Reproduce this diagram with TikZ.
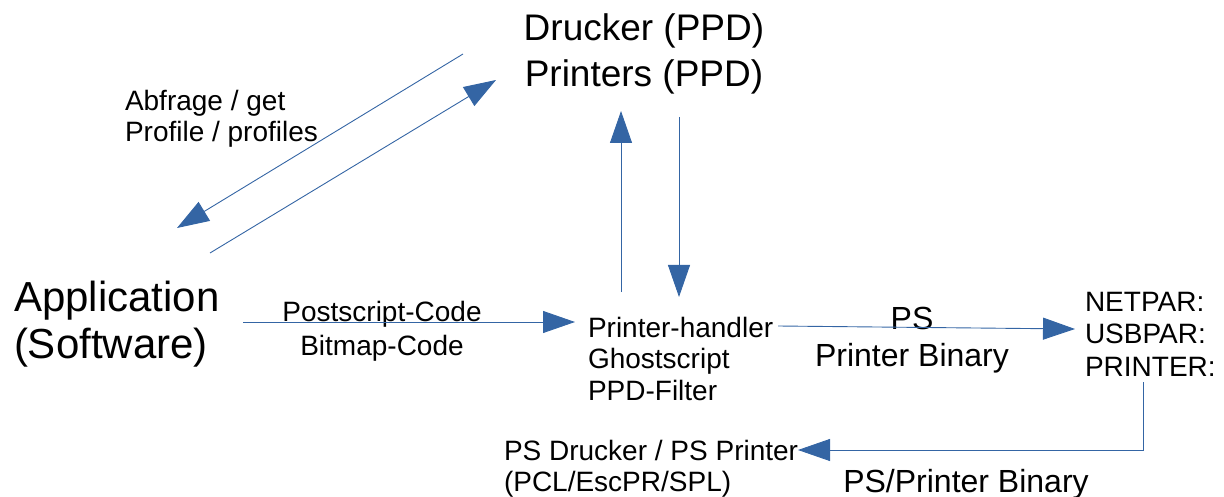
\documentclass[tikz,border=0pt]{standalone}
\usepackage{fontspec}
\setmainfont{Liberation Sans}
\usetikzlibrary{arrows.meta}
\definecolor{ablue}{RGB}{52,101,164}
\newcommand\myfs[2]{\fontsize{#1}{#2}\selectfont}
\begin{document}
\begin{tikzpicture}[x=1pt,y=-1pt,
  lbl/.style={inner sep=0pt, outer sep=0pt},
  conn/.style={draw=ablue, line width=0.9pt, -{Triangle[length=32pt,width=22pt]}}]
\useasboundingbox (0,0) rectangle (1224,497);
% texts (base anchor = baseline of the last line)
\node[lbl, font=\myfs{37}{46}, align=center, anchor=base] (ppd) at (644,87) {Drucker (PPD)\\Printers (PPD)};
\node[lbl, font=\myfs{28}{31}, align=left, anchor=base west] (abf) at (125,142) {Abfrage / get\\Profile / profiles};
\node[lbl, font=\myfs{42}{47}, align=left, anchor=base west] (app) at (14,358) {Application\\(Software)};
\node[lbl, font=\myfs{28}{34}, align=center, anchor=base] (code) at (382,355) {Postscript-Code\\Bitmap-Code};
\node[lbl, font=\myfs{28}{31.5}, align=left, anchor=base west] (hdl) at (588,400) {Printer-handler\\Ghostscript\\PPD-Filter};
\node[lbl, font=\myfs{32}{37}, align=center, anchor=base] (psb) at (912,366) {PS\\Printer Binary};
\node[lbl, font=\myfs{28}{32.5}, align=left, anchor=base west] (port) at (1085,376) {NETPAR:\\USBPAR:\\PRINTER:};
\node[lbl, font=\myfs{28}{31}, align=left, anchor=base west] (psd) at (504,491) {PS Drucker / PS Printer\\(PCL/EscPR/SPL)};
\node[lbl, font=\myfs{32}{37}, anchor=base] (psb2) at (966,492) {PS/Printer Binary};
% connector ends
\coordinate (c1s) at (463,54);  \coordinate (c1e) at (177,228);
\coordinate (c2s) at (210,253); \coordinate (c2e) at (496,80);
\coordinate (c3s) at (621,292); \coordinate (c3e) at (621,111);
\coordinate (c4s) at (679,117); \coordinate (c4e) at (679,297);
\coordinate (c5s) at (243,322); \coordinate (c5e) at (575,322);
\coordinate (c6s) at (778,326); \coordinate (c6e) at (1075,329);
\coordinate (c7s) at (1143,382); \coordinate (c7e) at (798,450);
% connectors
\draw[conn] (c1s) -- (c1e);
\draw[conn] (c2s) -- (c2e);
\draw[conn] (c3s) -- (c3e);
\draw[conn] (c4s) -- (c4e);
\draw[conn] (c5s) -- (c5e);
\draw[conn] (c6s) -- (c6e);
\draw[conn] (c7s) |- (c7e);
\end{tikzpicture}
\end{document}
